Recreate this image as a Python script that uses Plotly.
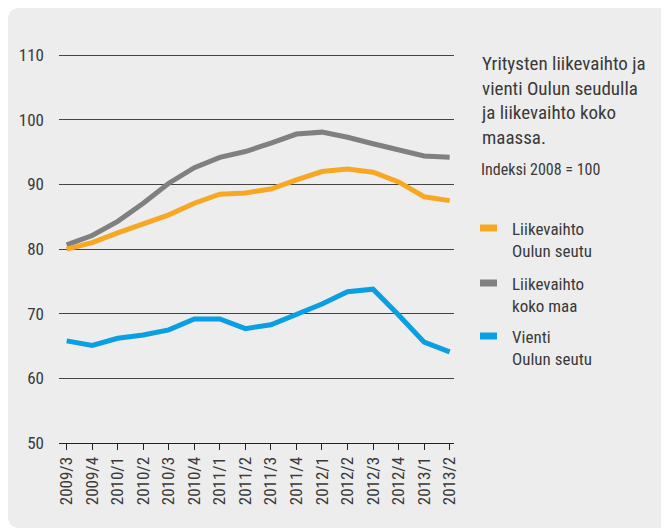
import plotly.graph_objects as go

quarters = ["2009/3", "2009/4", "2010/1", "2010/2", "2010/3", "2010/4", "2011/1", "2011/2",
            "2011/3", "2011/4", "2012/1", "2012/2", "2012/3", "2012/4", "2013/1", "2013/2"]
liikevaihto_oulu = [80.0, 81.0, 82.5, 83.9, 85.3, 87.1, 88.5, 88.7, 89.3, 90.7, 92.0, 92.4, 91.9, 90.4, 88.1, 87.5]
liikevaihto_koko = [80.65, 82.1, 84.3, 87.1, 90.2, 92.6, 94.2, 95.1, 96.4, 97.8, 98.1, 97.3, 96.3, 95.4, 94.4, 94.2]
vienti_oulu = [65.8, 65.1, 66.2, 66.7, 67.5, 69.2, 69.2, 67.7, 68.3, 69.8, 71.5, 73.4, 73.8, 69.8, 65.6, 64.1]
y_ticks = [50, 60, 70, 80, 90, 100, 110]

series_names = ["Liikevaihto<br>Oulun seutu", "Liikevaihto<br>koko maa", "Vienti<br>Oulun seutu"]
colors = ["#F7A823", "#808080", "#0A9FE2"]
title_text = "Yritysten liikevaihto ja<br>vienti Oulun seudulla<br>ja liikevaihto koko<br>maassa."
subtitle_text = "Indeksi 2008 = 100"

FONT = "Liberation Sans Narrow, Roboto Condensed, Arial Narrow, Roboto, sans-serif"
TXT = "#3a3a3a"

OFF = 8  # page body margin
W, H = 661, 520
L, R, T, B = 51, 215, 44, 85
pw, ph = W - L - R, H - T - B

def px(x):
    return (x - OFF - L) / pw

def py(y):
    return (H - B - (y - OFF)) / ph

xs = list(range(len(quarters)))
fig = go.Figure()
for vals, c in zip([liikevaihto_koko, liikevaihto_oulu, vienti_oulu], [colors[1], colors[0], colors[2]]):
    fig.add_trace(go.Scatter(x=xs, y=vals, mode="lines", line=dict(color=c, width=5),
                             showlegend=False, hoverinfo="skip", cliponaxis=False))

# rounded panel background (page coords)
x0, y0, x1, y1, r = 8, 8, 690, 528, 12
path = (f"M {px(x0+r)},{py(y0)} L {px(x1)},{py(y0)} L {px(x1)},{py(y1)} "
        f"L {px(x0+r)},{py(y1)} Q {px(x0)},{py(y1)} {px(x0)},{py(y1-r)} "
        f"L {px(x0)},{py(y0+r)} Q {px(x0)},{py(y0)} {px(x0+r)},{py(y0)} Z")
shapes = [dict(type="path", xref="paper", yref="paper", path=path,
               fillcolor="#EDEDED", line=dict(width=0), layer="below")]

annotations = [
    dict(xref="paper", yref="paper", x=px(479), y=py(50), xanchor="left", yanchor="top",
         text=title_text, showarrow=False, align="left",
         font=dict(family=FONT, size=19, color=TXT)),
    dict(xref="paper", yref="paper", x=px(479), y=py(158), xanchor="left", yanchor="top",
         text=subtitle_text, showarrow=False, align="left",
         font=dict(family=FONT, size=16, color=TXT)),
]
leg_y = [228, 283, 336]
for name, c, yy in zip(series_names, colors, leg_y):
    shapes.append(dict(type="rect", xref="paper", yref="paper",
                       x0=px(480), x1=px(497), y0=py(yy - 3.5), y1=py(yy + 3.5),
                       fillcolor=c, line=dict(width=0)))
    annotations.append(dict(xref="paper", yref="paper", x=px(510), y=py(yy - 11),
                            xanchor="left", yanchor="top", text=name, showarrow=False,
                            align="left", font=dict(family=FONT, size=17, color=TXT)))

fig.update_layout(
    width=W, height=H,
    margin=dict(l=L, r=R, t=T, b=B, pad=0),
    paper_bgcolor="white", plot_bgcolor="rgba(0,0,0,0)",
    font=dict(family=FONT, size=17, color=TXT),
    shapes=shapes, annotations=annotations,
    xaxis=dict(range=[-0.3, 15.17], tickmode="array", tickvals=xs, ticktext=quarters,
               tickangle=-90, ticks="outside", ticklen=6, tickwidth=1.2, tickcolor="#222",
               showgrid=False, zeroline=False, showline=True, linecolor="#222", linewidth=1.3,
               tickfont=dict(family=FONT, size=17, color=TXT)),
    yaxis=dict(range=[50, 110.5], tickvals=y_ticks, showgrid=True, gridcolor="#444",
               gridwidth=1.3, zeroline=False, showline=False, ticks="",
               ticklabelstandoff=14,
               tickfont=dict(family=FONT, size=17, color=TXT)),
)
fig.write_html("out.html")
